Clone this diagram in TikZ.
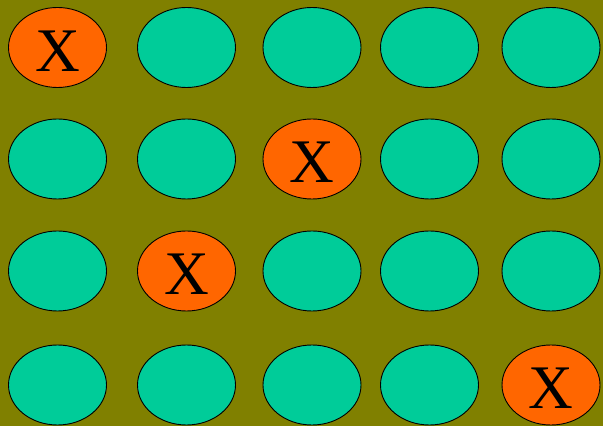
\documentclass[tikz,border=0pt]{standalone}
\usepackage{fontspec}
\setmainfont{Liberation Serif}
\usetikzlibrary{shapes.geometric}
\definecolor{boardolive}{HTML}{808000}
\definecolor{holegreen}{HTML}{00CC99}
\definecolor{hitorange}{HTML}{FF6600}
\tikzset{
  hole/.style={ellipse,draw=black,line width=0.9pt,fill=holegreen,
    minimum width=98pt,minimum height=80pt,inner sep=0pt},
  hit/.style={hole,fill=hitorange,font=\fontsize{62}{62}\selectfont,
    text height=48pt,text depth=0pt}
}

\begin{document}
\begin{tikzpicture}[x=1pt,y=1pt]
  % Board
  \fill[boardolive] (0,0) rectangle (603,426);
  % Holes, one hit per row
  \foreach \r/\y/\hc in {1/378.5/1,2/267/3,3/155/2,4/41/5}{
    \foreach \c/\x in {1/57.5,2/186.5,3/312,4/429.5,5/551}{
      \ifnum\c=\hc
        \node[hit] (h\r\c) at (\x,\y) {X};
      \else
        \node[hole] (h\r\c) at (\x,\y) {};
      \fi
    }
  }
\end{tikzpicture}
\end{document}
